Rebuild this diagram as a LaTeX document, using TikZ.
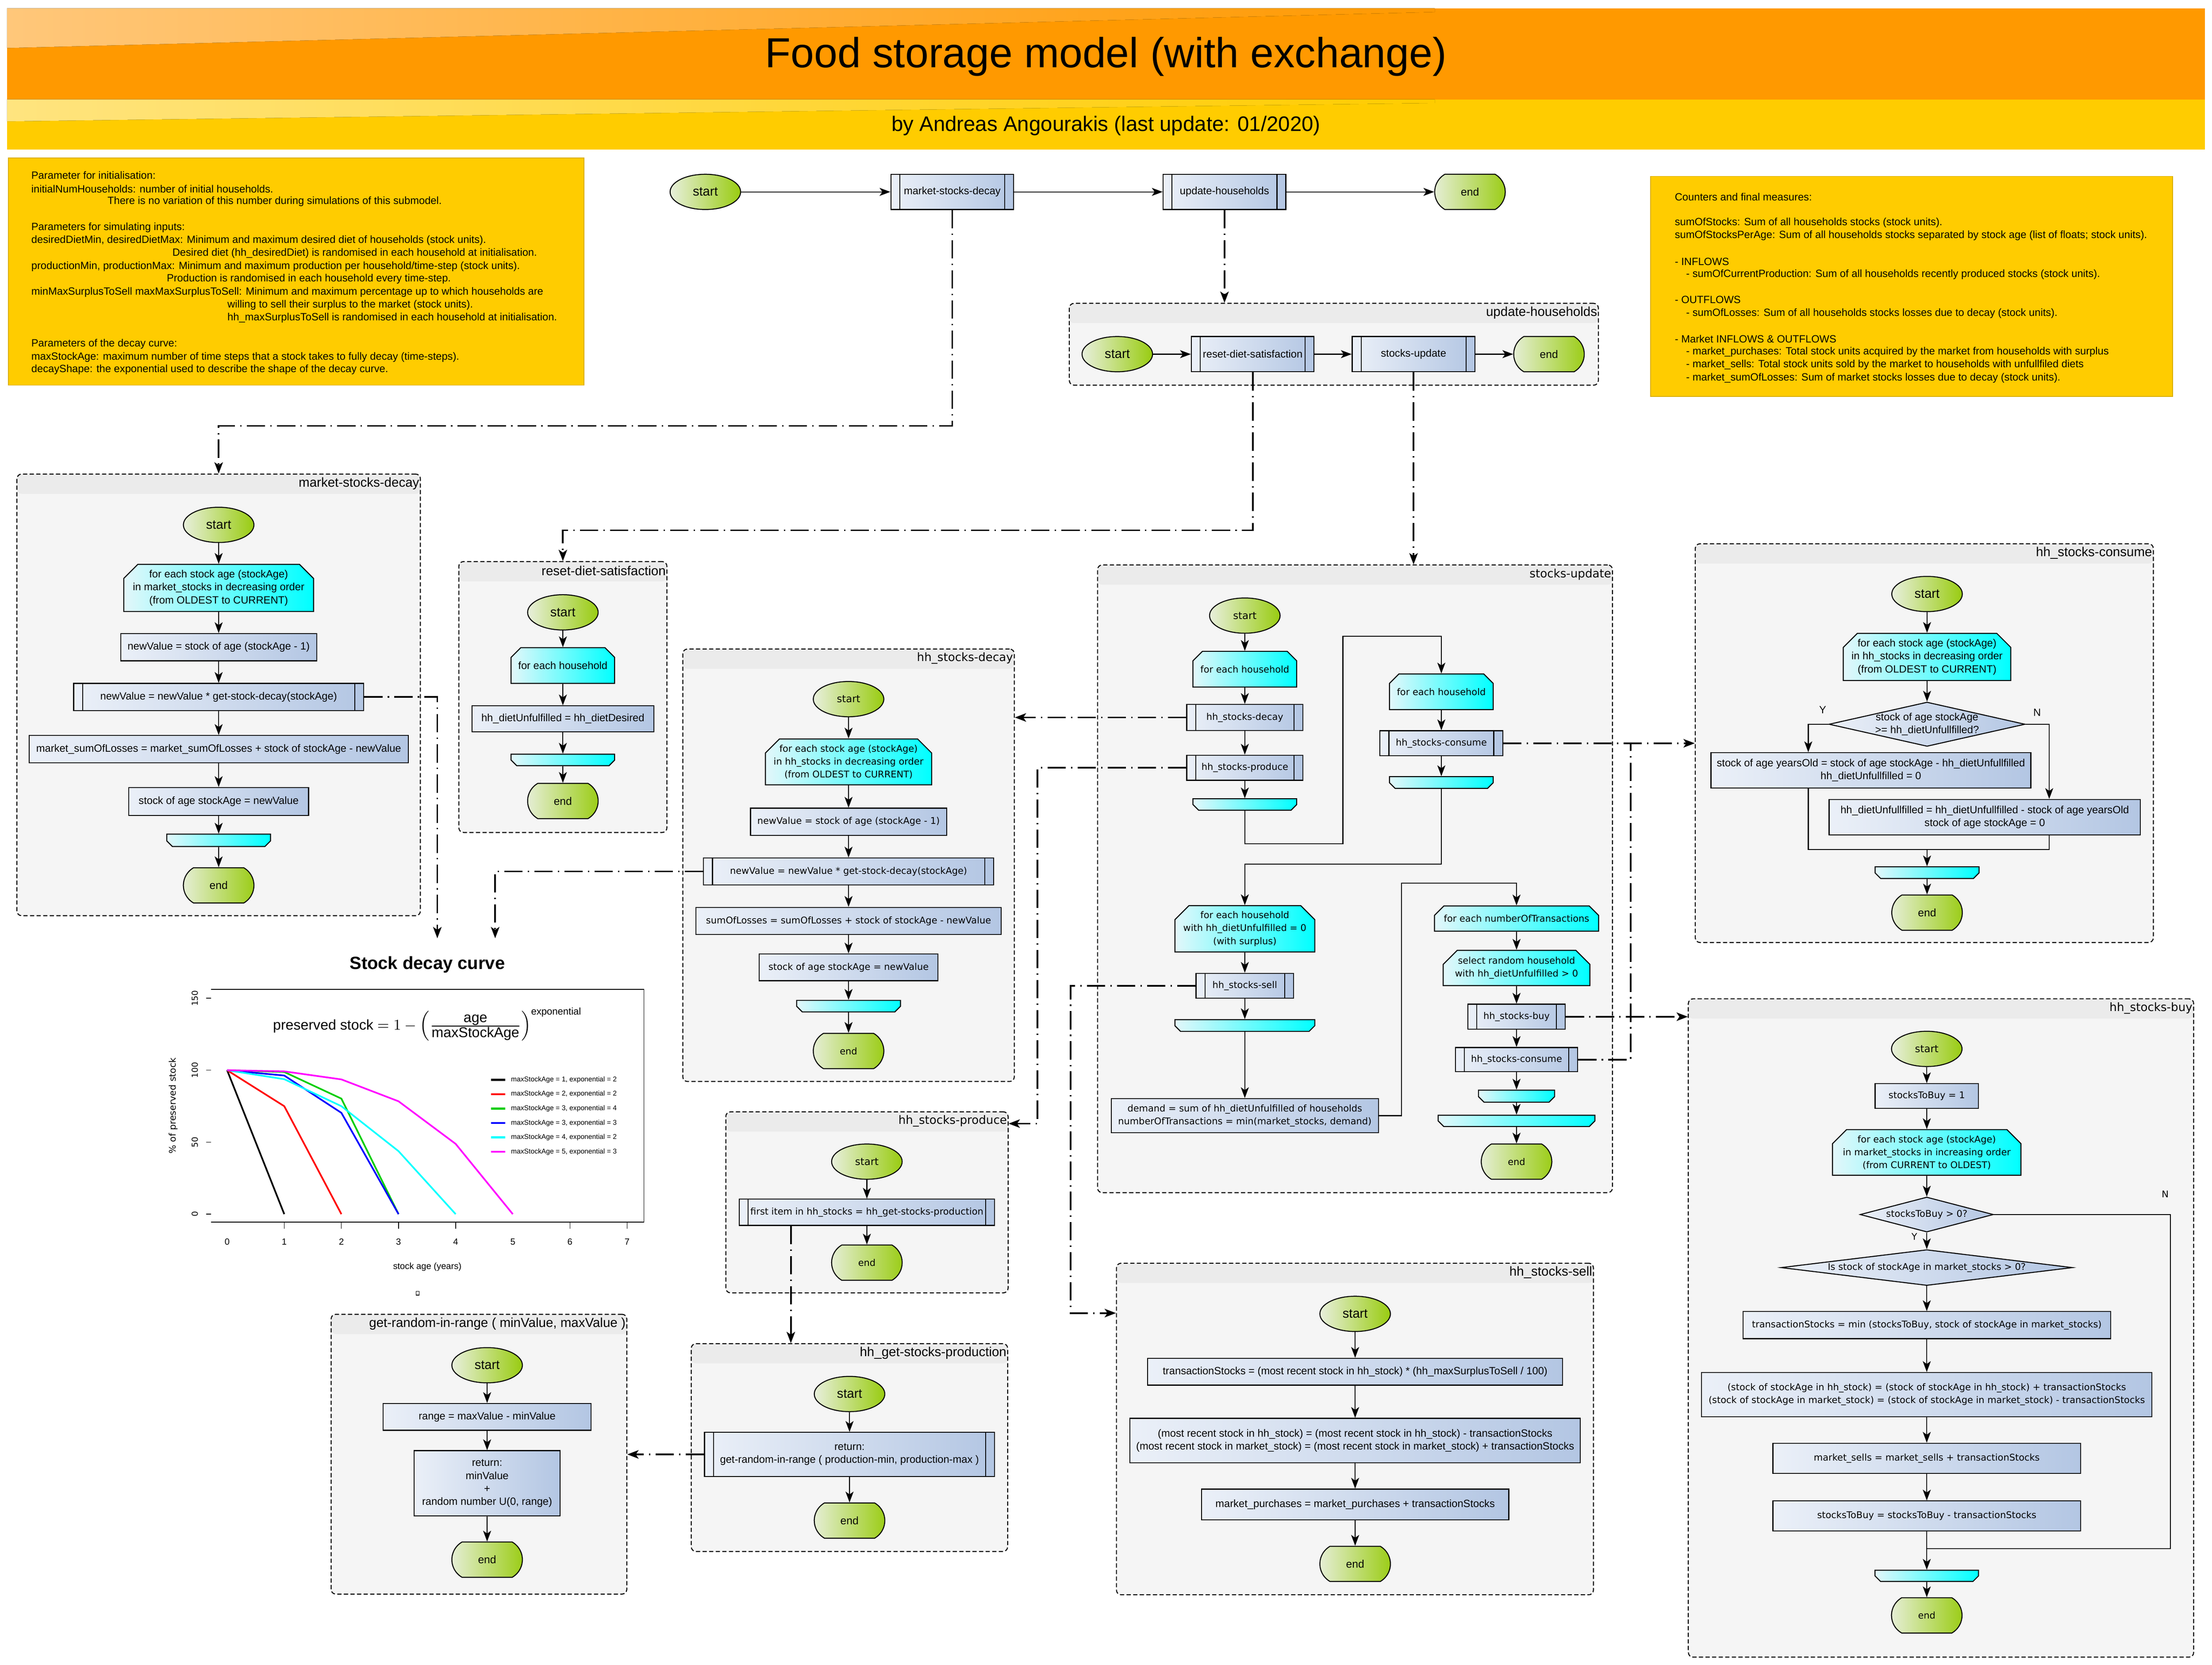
\documentclass[tikz,border=0pt]{standalone}
\usepackage{fontspec}
\setmainfont{Liberation Sans}
\newfontfamily\widefont{DejaVu Sans}
\usetikzlibrary{shapes.geometric,shapes.misc,arrows.meta}

\definecolor{orangebar}{HTML}{FF9900}
\definecolor{glossorange}{HTML}{FFC77A}
\definecolor{yellowbar}{HTML}{FFCC00}
\definecolor{glossyellow}{HTML}{FFE47F}
\definecolor{notebox}{HTML}{FFCC00}
\definecolor{noteline}{HTML}{D9AD00}
\definecolor{groupbody}{HTML}{F5F5F5}
\definecolor{grouphead}{HTML}{EBEBEB}
\definecolor{startleft}{HTML}{E8EFDC}
\definecolor{startright}{HTML}{99CC11}
\definecolor{procleft}{HTML}{EBF0F8}
\definecolor{procright}{HTML}{B3C6E3}
\definecolor{loopleft}{HTML}{E3F7FA}
\definecolor{loopright}{HTML}{00FFFF}
\definecolor{curvegreen}{HTML}{00CD00}
\definecolor{curvered}{HTML}{FF0000}
\definecolor{curveblue}{HTML}{0000FF}
\definecolor{curvecyan}{HTML}{00FFFF}
\definecolor{curvemagenta}{HTML}{FF00FF}

\newdimen\pxu
\pxu=0.3mm

\tikzset{
  nf/.style={font=\fontsize{6.35}{7.8}\selectfont},
  wf/.style={font=\widefont\fontsize{5.6}{7.8}\selectfont},
  nfstart/.style={font=\fontsize{7.8}{9}\selectfont},
  nfend/.style={font=\fontsize{6.6}{8}\selectfont},
  wfstart/.style={font=\widefont\fontsize{6.1}{7.8}\selectfont},
  wfend/.style={font=\widefont\fontsize{5.6}{7.8}\selectfont},
  nt/.style={font=\fontsize{7.9}{9}\selectfont},
  wt/.style={font=\widefont\fontsize{7}{8.5}\selectfont},
  boxsize/.style 2 args={minimum width=#1\pxu, minimum height=#2\pxu},
  flowshape/.style={draw, line width=0.6pt, inner sep=0pt, align=center},
  startnode/.style={flowshape, ellipse, left color=startleft, right color=startright, boxsize={50}{25}},
  endnode/.style={flowshape, rounded rectangle, rounded rectangle arc length=120,
    left color=startleft, right color=startright, boxsize={50}{25}},
  procbox/.style={flowshape, rectangle, left color=procleft, right color=procright},
  subproc/.style={procbox, path picture={
    \draw[line width=0.6pt] ([xshift=1.9mm]path picture bounding box.north west) -- ([xshift=1.9mm]path picture bounding box.south west)
      ([xshift=-1.9mm]path picture bounding box.north east) -- ([xshift=-1.9mm]path picture bounding box.south east);}},
  loopopen/.style={flowshape, chamfered rectangle, chamfered rectangle corners={north west,north east},
    chamfered rectangle xsep=1.75mm, left color=loopleft, right color=loopright},
  loopclose/.style={flowshape, inner ysep=1.2mm, chamfered rectangle, chamfered rectangle corners={south west,south east},
    chamfered rectangle xsep=1.2mm, left color=loopleft, right color=loopright},
  decision/.style={draw, line width=0.6pt, inner sep=0pt, diamond, aspect=1, left color=procleft, right color=procright},
  yn/.style={inner sep=0pt},
  groupbox/.style={draw, line width=0.6pt, dash pattern=on 0.9mm off 0.5mm, rounded corners=1mm, fill=groupbody, inner sep=0pt,
    path picture={\fill[grouphead] (path picture bounding box.north west) rectangle ([yshift=-14\pxu]path picture bounding box.north east);}},
  grouptitle/.style={anchor=east, inner sep=0pt},
  notepaper/.style={fill=notebox, draw=noteline, line width=0.4pt},
  notetext/.style={nf, anchor=west, inner sep=0pt},
  flow/.style={line width=0.6pt, -{Stealth[length=2.3mm, width=1.7mm, inset=0.6mm]}},
  joinline/.style={line width=0.6pt},
  callline/.style={line width=1pt, dash pattern=on 3.9mm off 1.1mm on 0.3mm off 1.1mm},
  call/.style={callline, -{Stealth[length=2.4mm, width=1.8mm, inset=0.6mm]}},
  axisfont/.style={inner sep=0pt, font=\fontsize{5.4}{6.5}\selectfont},
  yaxisfont/.style={inner sep=0pt, font=\widefont\fontsize{5}{6}\selectfont},
  legendfont/.style={inner sep=0pt, font=\fontsize{4.2}{5}\selectfont},
}

\begin{document}
\begin{tikzpicture}[x=0.3mm, y=-0.3mm]
\useasboundingbox (0,0) rectangle (1568,1180);

% header
\fill [orangebar] (5,5.8) rectangle (1563,70.4);
\fill [left color=glossorange, right color=orangebar] (5,5.8) -- (1017,5.8) -- (1017,8.5) -- (5,34) -- cycle;
\fill [yellowbar] (5,70.4) rectangle (1563,106);
\fill [left color=glossyellow, right color=yellowbar] (5,70.4) -- (1017,70.4) -- (1017,73) -- (5,86) -- cycle;
\draw (784,40) node [font=\fontsize{25.4}{30}\selectfont] (title) {Food storage model (with exchange)};
\draw (784,89) node [font=\fontsize{12.7}{15}\selectfont] (byline) {by Andreas Angourakis (last update: 01/2020)};

% parameters
\draw [notepaper] (6,112) rectangle (414,273);
\draw (22,124.3) node [notetext] (p1) {Parameter for initialisation:};
\draw (22,133.8) node [notetext] (p2) {initialNumHouseholds: number of initial households.};
\draw (76,142.7) node [notetext] (p3) {There is no variation of this number during simulations of this submodel.};
\draw (22,161.2) node [notetext] (p4) {Parameters for simulating inputs:};
\draw (22,170.3) node [notetext] (p5) {desiredDietMin, desiredDietMax: Minimum and maximum desired diet of households (stock units).};
\draw (122,179.6) node [notetext] (p6) {Desired diet (hh\_desiredDiet) is randomised in each household at initialisation.};
\draw (22,188.8) node [notetext] (p7) {productionMin, productionMax: Minimum and maximum production per household/time-step (stock units).};
\draw (118,197.8) node [notetext] (p8) {Production is randomised in each household every time-step.};
\draw (22,207) node [notetext] (p9) {minMaxSurplusToSell maxMaxSurplusToSell: Minimum and maximum percentage up to which households are};
\draw (161,216.2) node [notetext] (p10) {willing to sell their surplus to the market (stock units).};
\draw (161,225.4) node [notetext] (p11) {hh\_maxSurplusToSell is randomised in each household at initialisation.};
\draw (22,243.9) node [notetext] (p12) {Parameters of the decay curve:};
\draw (22,253.2) node [notetext] (p13) {maxStockAge: maximum number of time steps that a stock takes to fully decay (time-steps).};
\draw (22,262.1) node [notetext] (p14) {decayShape: the exponential used to describe the shape of the decay curve.};

% counters
\draw [notepaper] (1170,125) rectangle (1540,281);
\draw (1187,139.5) node [notetext] (c1) {Counters and final measures:};
\draw (1187,157.9) node [notetext] (c2) {sumOfStocks: Sum of all households stocks (stock units).};
\draw (1187,166.9) node [notetext] (c3) {sumOfStocksPerAge: Sum of all households stocks separated by stock age (list of floats; stock units).};
\draw (1187,185.4) node [notetext] (c4) {- INFLOWS};
\draw (1195,194.4) node [notetext] (c5) {- sumOfCurrentProduction: Sum of all households recently produced stocks (stock units).};
\draw (1187,212.4) node [notetext] (c6) {- OUTFLOWS};
\draw (1195,222.2) node [notetext] (c7) {- sumOfLosses: Sum of all households stocks losses due to decay (stock units).};
\draw (1187,240.1) node [notetext] (c8) {- Market INFLOWS \& OUTFLOWS};
\draw (1195,249.5) node [notetext] (c9) {- market\_purchases: Total stock units acquired by the market from households with surplus};
\draw (1195,258.6) node [notetext] (c10) {- market\_sells: Total stock units sold by the market to households with unfullfiled diets};
\draw (1195,267.9) node [notetext] (c11) {- market\_sumOfLosses: Sum of market stocks losses due to decay (stock units).};

% main loop
\draw (500,136) node [startnode, nfstart] (s0) {start};
\draw (675,136) node [subproc, nf, boxsize={87}{25}] (msd) {market-stocks-decay};
\draw (868,136) node [subproc, nf, boxsize={87}{25}] (uh) {update-households};
\draw (1042,136) node [endnode, nfend] (e0) {end};

% update-households
\draw (945.5,244) node [groupbox, boxsize={375}{58}] (guh) {};
\draw ([xshift=-1\pxu,yshift=-7\pxu]guh.north east) node [grouptitle, nt] (tuh) {update-households};
\draw (792,251) node [startnode, nfstart] (uhs) {start};
\draw (888,251) node [subproc, nf, boxsize={87}{25}] (rds) {reset-diet-satisfaction};
\draw (1002,251) node [subproc, nf, boxsize={87}{25}] (su) {stocks-update};
\draw (1098,251) node [endnode, nfend] (uhe) {end};

% market-stocks-decay
\draw (155,492.5) node [groupbox, boxsize={286}{313}] (gmsd) {};
\draw ([xshift=-1\pxu,yshift=-7\pxu]gmsd.north east) node [grouptitle, nt] (tmsd) {market-stocks-decay};
\draw (155,372) node [startnode, nfstart] (msds) {start};
\draw (155,416.7) node [loopopen, nf, boxsize={134.5}{33}] (msdfe) {for each stock age (stockAge)\\in market\_stocks in decreasing order\\(from OLDEST to CURRENT)};
\draw (155,458.7) node [procbox, nf, boxsize={139}{19.3}] (msdnv) {newValue = stock of age (stockAge - 1)};
\draw (155,494) node [subproc, nf, boxsize={205.6}{19.3}] (msdget) {newValue = newValue * get-stock-decay(stockAge)};
\draw (155,531) node [procbox, nf, boxsize={268.7}{19.5}] (msdloss) {market\_sumOfLosses = market\_sumOfLosses + stock of stockAge - newValue};
\draw (155,568) node [procbox, nf, boxsize={127.4}{19.7}] (msdset) {stock of age stockAge = newValue};
\draw (155,595.6) node [loopclose, boxsize={73.5}{8.8}] (msdle) {};
\draw (155,627.5) node [endnode, nfend] (msde) {end};

% reset-diet-satisfaction
\draw (399,494) node [groupbox, boxsize={147.5}{192}] (grds) {};
\draw ([xshift=-1\pxu,yshift=-7\pxu]grds.north east) node [grouptitle, nt] (trds) {reset-diet-satisfaction};
\draw (399,434) node [startnode, nfstart] (rdss) {start};
\draw (399,471.7) node [loopopen, nf, boxsize={73.4}{25.3}] (rdsfe) {for each household};
\draw (399,509.5) node [procbox, nf, boxsize={129}{18.5}] (rdsset) {hh\_dietUnfulfilled = hh\_dietDesired};
\draw (399,538.6) node [loopclose, boxsize={73.4}{8.2}] (rdsle) {};
\draw (399,567.7) node [endnode, nfend] (rdse) {end};

% hh_stocks-decay
\draw (601.5,613.25) node [groupbox, boxsize={235}{306.5}] (ghsd) {};
\draw ([xshift=-1\pxu,yshift=-7\pxu]ghsd.north east) node [grouptitle, wt] (thsd) {hh\_stocks-decay};
\draw (601.5,495.5) node [startnode, wfstart] (hsds) {start};
\draw (601.5,540) node [loopopen, wf, boxsize={115}{32.5}] (hsdfe) {for each stock age (stockAge)\\in hh\_stocks in decreasing order\\(from OLDEST to CURRENT)};
\draw (601.5,582.4) node [procbox, wf, boxsize={139}{19.2}] (hsdnv) {newValue = stock of age (stockAge - 1)};
\draw (601.5,617.6) node [subproc, wf, boxsize={205.6}{19}] (hsdget) {newValue = newValue * get-stock-decay(stockAge)};
\draw (601.5,652.7) node [procbox, wf, boxsize={216.4}{19.2}] (hsdloss) {sumOfLosses = sumOfLosses + stock of stockAge - newValue};
\draw (601.5,685.6) node [procbox, wf, boxsize={126.6}{19}] (hsdset) {stock of age stockAge = newValue};
\draw (601.5,713.1) node [loopclose, boxsize={73.6}{8.2}] (hsdle) {};
\draw (601.5,744.9) node [endnode, wfend] (hsde) {end};

% hh_stocks-produce
\draw (614.55,852.15) node [groupbox, boxsize={200.1}{128.3}] (ghsp) {};
\draw ([xshift=-1\pxu,yshift=-7\pxu]ghsp.north east) node [grouptitle, wt] (thsp) {hh\_stocks-produce};
\draw (614.5,823.3) node [startnode, wfstart] (hsps) {start};
\draw (614.5,859.2) node [subproc, wf, boxsize={181}{18.6}] (hspfirst) {first item in hh\_stocks = hh\_get-stocks-production};
\draw (614.5,894.9) node [endnode, wfend] (hspe) {end};

% hh_get-stocks-production
\draw (602.15,1025.95) node [groupbox, boxsize={224.3}{147.3}] (ghgsp) {};
\draw ([xshift=-1\pxu,yshift=-7\pxu]ghgsp.north east) node [grouptitle, nt] (thgsp) {hh\_get-stocks-production};
\draw (602.2,988) node [startnode, nfstart] (gsps) {start};
\draw (602.2,1030.8) node [subproc, nf, boxsize={205.6}{31.2}] (gspret) {return:\\get-random-in-range ( production-min, production-max )};
\draw (602.2,1077.7) node [endnode, nfend] (gspe) {end};

% get-random-in-range
\draw (339.5,1030.65) node [groupbox, boxsize={209.6}{198.3}] (ggrr) {};
\draw ([xshift=-1\pxu,yshift=-7\pxu]ggrr.north east) node [grouptitle, nt] (tgrr) {get-random-in-range ( minValue, maxValue )};
\draw (345.3,967.6) node [startnode, nfstart] (grrs) {start};
\draw (345.3,1004.2) node [procbox, nf, boxsize={147.3}{19}] (grrrange) {range = maxValue - minValue};
\draw (345.3,1051.3) node [procbox, nf, boxsize={103.4}{46.3}] (grrret) {return:\\minValue\\+\\random number U(0, range)};
\draw (345.3,1105.4) node [endnode, nfend] (grre) {end};

% stocks-update
\draw (960.5,622.85) node [groupbox, boxsize={365}{444.9}] (gsu) {};
\draw ([xshift=-1\pxu,yshift=-7\pxu]gsu.north east) node [grouptitle, wt] (tsu) {stocks-update};
\draw (882.4,436.3) node [startnode, wfstart] (sus) {start};
\draw (882.4,474.3) node [loopopen, wf, boxsize={73.5}{25.3}] (sufe1) {for each household};
\draw (882.4,508.5) node [subproc, wf, boxsize={82.4}{18.5}] (sudecay) {hh\_stocks-decay};
\draw (882.4,544.1) node [subproc, wf, boxsize={82.4}{17.8}] (suprod) {hh\_stocks-produce};
\draw (882.4,570.2) node [loopclose, boxsize={73.5}{8.1}] (sule1) {};
\draw (1021.7,490.3) node [loopopen, wf, boxsize={73.5}{25.3}] (sufe2) {for each household};
\draw (1021.7,526.8) node [subproc, wf, boxsize={87}{17.8}] (sucons) {hh\_stocks-consume};
\draw (1021.7,554.6) node [loopclose, boxsize={73.5}{8.3}] (sule2) {};
\draw (882.4,658.3) node [loopopen, wf, boxsize={99.2}{32.5}] (sufe3) {for each household\\with hh\_dietUnfulfilled = 0\\(with surplus)};
\draw (882.4,698.6) node [subproc, wf, boxsize={69.2}{17.6}] (susell) {hh\_stocks-sell};
\draw (882.4,726.8) node [loopclose, boxsize={99.2}{8.3}] (sule3) {};
\draw (882.4,790.7) node [procbox, wf, boxsize={189.4}{24.2}] (sudemand) {demand = sum of hh\_dietUnfulfilled of households\\numberOfTransactions = min(market\_stocks, demand)};
\draw (1075,651) node [loopopen, wf, boxsize={116.3}{17.9}] (sufe4) {for each numberOfTransactions};
\draw (1075,686) node [loopopen, wf, boxsize={103.9}{25}] (susel) {select random household\\with hh\_dietUnfulfilled > 0};
\draw (1075,720.6) node [subproc, wf, boxsize={69}{17.8}] (subuy) {hh\_stocks-buy};
\draw (1075,751) node [subproc, wf, boxsize={86.7}{17.2}] (sucons2) {hh\_stocks-consume};
\draw (1075,776.9) node [loopclose, boxsize={54}{8.6}] (sule4a) {};
\draw (1075,794.4) node [loopclose, boxsize={111.2}{8}] (sule4b) {};
\draw (1075,823.3) node [endnode, wfend] (sue) {end};
\coordinate (consjoin) at (1156,526.8);

% hh_stocks-consume
\draw (1364.05,526.7) node [groupbox, boxsize={324.7}{282.6}] (ghsc) {};
\draw ([xshift=-1\pxu,yshift=-7\pxu]ghsc.north east) node [grouptitle, nt] (thsc) {hh\_stocks-consume};
\draw (1366,421) node [startnode, nfstart] (hscs) {start};
\draw (1366,465.6) node [loopopen, nf, boxsize={115.1}{32.9}] (hscfe) {for each stock age (stockAge)\\in hh\_stocks in decreasing order\\(from OLDEST to CURRENT)};
\draw (1366,513.3) node [decision, nf, boxsize={139}{31.4}] (hscdec) {\makebox[0pt]{\begin{tabular}{@{}c@{}}stock of age stockAge\\>= hh\_dietUnfullfilled?\end{tabular}}};
\draw (1326.2,546) node [procbox, nf, boxsize={226.8}{25.1}] (hscyes) {stock of age yearsOld = stock of age stockAge - hh\_dietUnfullfilled\\hh\_dietUnfullfilled = 0};
\draw (1406.9,579.2) node [procbox, nf, boxsize={220.7}{25.2}] (hscno) {hh\_dietUnfullfilled = hh\_dietUnfullfilled - stock of age yearsOld\\stock of age stockAge = 0};
\draw (1366,618.5) node [loopclose, boxsize={73.7}{8.3}] (hscle) {};
\draw (1366,646.8) node [endnode, nfend] (hsce) {end};
\draw (1292,503) node [yn, nf] (hscy) {Y};
\draw (1444,505) node [yn, nf] (hscn) {N};
\coordinate (hscjoin) at (1366,602);

% hh_stocks-buy
\draw (1375.9,941.2) node [groupbox, boxsize={358.2}{466.6}] (ghsb) {};
\draw ([xshift=-1\pxu,yshift=-7\pxu]ghsb.north east) node [grouptitle, wt] (thsb) {hh\_stocks-buy};
\draw (1365.8,743.4) node [startnode, wfstart] (hsbs) {start};
\draw (1365.8,776.8) node [procbox, wf, boxsize={73.2}{17.5}] (hsbinit) {stocksToBuy = 1};
\draw (1365.8,816.8) node [loopopen, wf, boxsize={133.6}{32.2}] (hsbfe) {for each stock age (stockAge)\\in market\_stocks in increasing order\\(from CURRENT to OLDEST)};
\draw (1365.8,860.8) node [decision, wf, boxsize={94.5}{24.8}] (hsbdec1) {\makebox[0pt]{stocksToBuy > 0?}};
\draw (1365.8,898.4) node [decision, wf, boxsize={206.6}{25.4}] (hsbdec2) {\makebox[0pt]{Is stock of stockAge in market\_stocks > 0?}};
\draw (1365.8,939.2) node [procbox, wf, boxsize={260.5}{19.2}] (hsbtrans) {transactionStocks = min (stocksToBuy, stock of stockAge in market\_stocks)};
\draw (1365.8,988.4) node [procbox, wf, boxsize={319.3}{31.3}] (hsbmove) {(stock of stockAge in hh\_stock) = (stock of stockAge in hh\_stock) + transactionStocks\\(stock of stockAge in market\_stock) = (stock of stockAge in market\_stock) - transactionStocks};
\draw (1365.8,1033.6) node [procbox, wf, boxsize={218.1}{21.5}] (hsbsells) {market\_sells = market\_sells + transactionStocks};
\draw (1365.8,1074.4) node [procbox, wf, boxsize={218.1}{21.2}] (hsbdecr) {stocksToBuy = stocksToBuy - transactionStocks};
\draw (1365.8,1116.9) node [loopclose, boxsize={73.4}{7.9}] (hsble) {};
\draw (1365.8,1144.9) node [endnode, wfend] (hsbe) {end};
\draw (1534.8,846.2) node [yn, wf] (hsbn) {N};
\draw (1357,876.6) node [yn, wf] (hsby) {Y};
\coordinate (hsbjoin) at (1365.8,1097.7);

% hh_stocks-sell
\draw (960.45,1012.8) node [groupbox, boxsize={338.1}{235}] (ghss) {};
\draw ([xshift=-1\pxu,yshift=-7\pxu]ghss.north east) node [grouptitle, nt] (thss) {hh\_stocks-sell};
\draw (960.6,931.2) node [startnode, nfstart] (hsss) {start};
\draw (960.6,972.2) node [procbox, nf, boxsize={294.2}{19}] (hsstrans) {transactionStocks = (most recent stock in hh\_stock) * (hh\_maxSurplusToSell / 100)};
\draw (960.6,1021) node [procbox, nf, boxsize={319.3}{31.5}] (hssmove) {(most recent stock in hh\_stock) = (most recent stock in hh\_stock) - transactionStocks\\(most recent stock in market\_stock) = (most recent stock in market\_stock) + transactionStocks};
\draw (960.6,1066.3) node [procbox, nf, boxsize={217.8}{21.8}] (hsspurch) {market\_purchases = market\_purchases + transactionStocks};
\draw (960.6,1108.4) node [endnode, nfend] (hsse) {end};

% stock decay curve
\draw (302.9,683.7) node [font=\bfseries\fontsize{10.7}{13}\selectfont] (curvetitle) {Stock decay curve};
\coordinate (curvein1) at (310,665);
\coordinate (curvein2) at (351,665);
\draw (149.7,701.2) -- (456.5,701.2) -- (456.5,866.2) -- (149.7,866.2);
\draw (303,726) node [font=\fontsize{8.6}{10}\selectfont] (curveformula) {preserved stock $= 1 - \Bigl(\frac{\mbox{age}}{\mbox{maxStockAge}}\Bigr)^{\mbox{\fontsize{5.9}{7}\selectfont exponential}}$};
\foreach \t in {1,2,3,4,6,7}
  \draw ({161+40.5*\t},866.2) -- ({161+40.5*\t},871);
\foreach \t in {0,...,7}
  \draw ({161+40.5*\t},880) node [axisfont] (xtick\t) {\t};
\foreach \v in {0,50,100,150} {
  \draw (146,{860.5-1.02*\v}) -- (149.7,{860.5-1.02*\v});
  \draw (138.3,{860.5-1.02*\v}) node [yaxisfont, rotate=90] (ytick\v) {\v};
}
\draw (302.9,898) node [axisfont] (xlabel) {stock age (years)};
\draw (122.8,783.6) node [inner sep=0pt, font=\widefont\fontsize{5.5}{6.5}\selectfont, rotate=90] (ylabel) {\% of preserved stock};
\begin{scope}[shift={(48.3mm,-258.15mm)}, x=12.15mm, y=0.306mm]
  \foreach \m/\e/\c in {1/2/black, 2/2/curvered, 3/4/curvegreen, 3/3/curveblue, 4/2/curvecyan, 5/3/curvemagenta}
    \draw [\c, line width=0.35mm] plot [samples at={0,...,\m}] (\x, {100*(1-(\x/\m)^\e)});
\end{scope}
\foreach \c/\txt [count=\i] in {black/{maxStockAge = 1, exponential = 2}, curvered/{maxStockAge = 2, exponential = 2},
    curvegreen/{maxStockAge = 3, exponential = 4}, curveblue/{maxStockAge = 3, exponential = 3},
    curvecyan/{maxStockAge = 4, exponential = 2}, curvemagenta/{maxStockAge = 5, exponential = 3}} {
  \draw [\c, line width=0.45mm] (348,{765.3+10.2*(\i-1)}) -- (358,{765.3+10.2*(\i-1)});
  \draw (362,{765.3+10.2*(\i-1)}) node [legendfont, anchor=west] (legend\i) {\txt};
}
\draw [line width=0.3pt] (294.9,915.1) rectangle (297.1,917.9);

% flow inside the charts
\foreach \a/\b in {s0/msd, msd/uh, uh/e0, uhs/rds, rds/su, su/uhe,
    msds/msdfe, msdfe/msdnv, msdnv/msdget, msdget/msdloss, msdloss/msdset, msdset/msdle, msdle/msde,
    rdss/rdsfe, rdsfe/rdsset, rdsset/rdsle, rdsle/rdse,
    hsds/hsdfe, hsdfe/hsdnv, hsdnv/hsdget, hsdget/hsdloss, hsdloss/hsdset, hsdset/hsdle, hsdle/hsde,
    hsps/hspfirst, hspfirst/hspe, gsps/gspret, gspret/gspe, grrs/grrrange, grrrange/grrret, grrret/grre,
    sus/sufe1, sufe1/sudecay, sudecay/suprod, suprod/sule1, sufe2/sucons, sucons/sule2,
    sufe3/susell, susell/sule3, sule3/sudemand, sufe4/susel, susel/subuy, subuy/sucons2,
    sucons2/sule4a, sule4a/sule4b, sule4b/sue,
    hscs/hscfe, hscfe/hscdec, hscle/hsce,
    hsbs/hsbinit, hsbinit/hsbfe, hsbfe/hsbdec1, hsbdec1/hsbdec2, hsbdec2/hsbtrans, hsbtrans/hsbmove,
    hsbmove/hsbsells, hsbsells/hsbdecr, hsbdecr/hsble, hsble/hsbe,
    hsss/hsstrans, hsstrans/hssmove, hssmove/hsspurch, hsspurch/hsse}
  \draw [flow] (\a) -- (\b);
\draw [flow] (sule1.south) -- ++(0,23.5) -| ++(69.5,-147.1) -| (sufe2.north);
\draw [flow] (sule2.south) -- ++(0,53.4) -| (sufe3.north);
\draw [flow] (sudemand.east) -| ++(16,-164.7) -| (sufe4.north);
\draw [flow] (hscdec.west) -| ([xshift=-44.4\pxu]hscyes.north);
\draw [flow] (hscdec.east) -| ([xshift=45.7\pxu]hscno.north);
\draw [joinline] ([xshift=-44.4\pxu]hscyes.south) |- (hscjoin) -| ([xshift=45.7\pxu]hscno.south);
\draw [flow] (hscjoin) -- (hscle.north);
\draw [joinline] (hsbdec1.east) -| ++(125,236.9) -- (hsbjoin);

% calls between the charts
\draw [call] (msd.south) -- ++(0,153) -| (gmsd.north);
\draw [call] (uh.south) -- (uh.south |- guh.north);
\draw [call] (rds.south) -- ++(0,112) -| (grds.north);
\draw [call] (su.south) -- (su.south |- gsu.north);
\draw [call] (msdget.east) -| (curvein1);
\draw [call] (hsdget.west) -| (curvein2);
\draw [call] (sudecay.west) -- (sudecay.west -| ghsd.east);
\draw [call] (suprod.west) -- ++(-105.5,0) |- ([yshift=-8.7\pxu]ghsp.north east);
\draw [call] (susell.west) -- ++(-88.6,0) |- ([yshift=-35.7\pxu]ghss.north west);
\draw [call] (sucons.east) -- (sucons.east -| ghsc.west);
\draw [call] (subuy.east) -- (subuy.east -| ghsb.west);
\draw [callline] (sucons2.east) -| (consjoin);
\draw [call] ([xshift=-53.9\pxu]hspfirst.south) -- ([xshift=-53.9\pxu]hspfirst.south |- ghgsp.north);
\draw [call] (gspret.west) -- (gspret.west -| ggrr.east);
\end{tikzpicture}
\end{document}
